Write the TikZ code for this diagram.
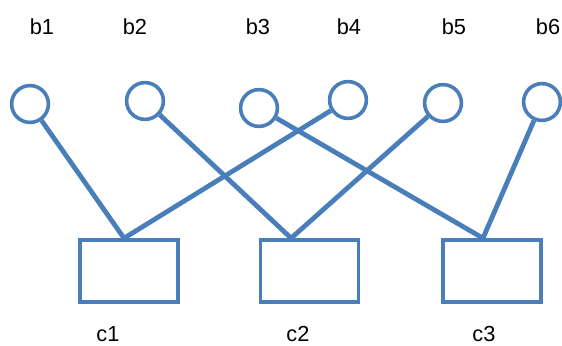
\documentclass[tikz,border=0pt]{standalone}
\usepackage{fontspec}
\setmainfont{Liberation Sans}
\definecolor{lineblue}{RGB}{74,126,187}
\tikzstyle{b-node}=[draw=lineblue,circle,line width=0.09cm,minimum size=0.92cm,inner sep=0pt]
\tikzstyle{c-node}=[draw=lineblue,rectangle,line width=0.09cm,minimum width=2.45cm,minimum height=1.55cm,inner sep=0pt]
\tikzstyle{name-node}=[font=\fontsize{15.5}{15.5}\selectfont,inner sep=0pt]
\tikzstyle{link}=[draw=lineblue,line width=0.12cm]

\begin{document}
\begin{tikzpicture}
        \useasboundingbox (0,0) rectangle (14.05,8.625);
        \begin{scope}
            \node[name-node] at (1.05,7.95) (l1) {b1};
            \node[name-node] at (3.375,7.95) (l2) {b2};
            \node[name-node] at (6.45,7.95) (l3) {b3};
            \node[name-node] at (8.725,7.95) (l4) {b4};
            \node[name-node] at (11.35,7.95) (l5) {b5};
            \node[name-node] at (13.7,7.95) (l6) {b6};
            \node[b-node] at (0.75,6.025) (b1) {};
            \node[b-node] at (3.625,6.1) (b2) {};
            \node[b-node] at (6.475,5.925) (b3) {};
            \node[b-node] at (8.7,6.125) (b4) {};
            \node[b-node] at (11.075,6.05) (b5) {};
            \node[b-node] at (13.55,6.075) (b6) {};
            \node[c-node] at (3.225,1.85) (c1) {};
            \node[c-node] at (7.7375,1.85) (c2) {};
            \node[c-node] at (12.3,1.85) (c3) {};
            \node[name-node] at (2.7,0.275) (m1) {c1};
            \node[name-node] at (7.45,0.275) (m2) {c2};
            \node[name-node] at (12.1,0.275) (m3) {c3};
            \coordinate (t1) at ([xshift=-0.125cm]c1.north);
            \coordinate (t2) at ([xshift=-0.46cm]c2.north);
            \coordinate (t3) at ([xshift=-0.225cm]c3.north);

            \foreach \a/\b in {1/1, 2/2, 3/3, 4/1, 5/2, 6/3}
                \draw[link] (b\a) -- (t\b);
        \end{scope}
    \end{tikzpicture}
\end{document}
